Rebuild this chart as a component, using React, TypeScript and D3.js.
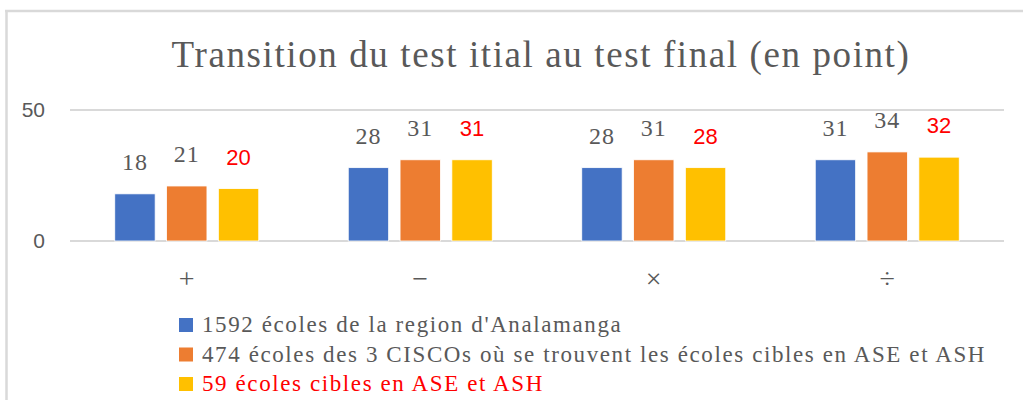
import * as d3 from "d3";

const categories = ["+", "−", "×", "÷"];
const seriesNames = [
  "1592 écoles de la region d'Analamanga",
  "474 écoles des 3 CISCOs où se trouvent les écoles cibles en ASE et ASH",
  "59 écoles cibles en ASE et ASH",
];
const regionValues = [18, 28, 28, 31];
const ciscoValues = [21, 31, 31, 34];
const cibleValues = [20, 31, 28, 32];
const yTicks = [0, 50];

const colors = ["#4472c4", "#ed7d31", "#ffc000"];
const grey = "#595959";
const serif = "'Liberation Serif', 'DejaVu Serif', serif";
const sans = "'Liberation Sans', Arial, sans-serif";

export default function App() {
  const width = 1023;
  const height = 400;
  const series = [regionValues, ciscoValues, cibleValues];

  // plot area
  const x0 = d3.scaleBand().domain(categories).range([70, 1004]);
  const x1 = d3
    .scaleBand()
    .domain(["0", "1", "2"])
    .range([0, 144])
    .paddingInner(0.22);
  const y = d3.scaleLinear().domain([0, 50]).range([241, 110]);

  return (
    <svg
      width={width}
      height={height}
      style={{ position: "absolute", left: 0, top: 0, background: "#fff" }}
    >
      {/* frame */}
      <line x1={6.5} y1={11} x2={6.5} y2={400} stroke="#d9d9d9" strokeWidth={2.5} />
      <line x1={5} y1={11} x2={1023} y2={11} stroke="#d9d9d9" strokeWidth={2.5} />

      <text
        x={541}
        y={67}
        textAnchor="middle"
        fontFamily={serif}
        fontSize={37}
        letterSpacing={1.6}
        fill={grey}
      >
        Transition du test itial au test final (en point)
      </text>

      {yTicks.map((t) => (
        <g key={t}>
          <line x1={70} x2={1004} y1={y(t)} y2={y(t)} stroke="#d9d9d9" strokeWidth={2} />
          <text
            x={45}
            y={y(t) + 7}
            textAnchor="end"
            fontFamily={sans}
            fontSize={21}
            fill={grey}
          >
            {t}
          </text>
        </g>
      ))}

      {categories.map((c, i) => {
        const gx = x0(c)! + (x0.bandwidth() - 144) / 2;
        return (
          <g key={c} transform={`translate(${gx},0)`}>
            {series.map((vals, s) => {
              const bx = x1(String(s))!;
              const v = vals[i];
              return (
                <g key={s}>
                  <rect
                    x={bx}
                    y={y(v)}
                    width={x1.bandwidth()}
                    height={y(0) - y(v)}
                    fill={colors[s]}
                    stroke="#fff"
                    strokeWidth={0.8}
                  />
                  <text
                    x={bx + x1.bandwidth() / 2}
                    y={y(v) - 24}
                    textAnchor="middle"
                    fontFamily={s === 2 ? sans : serif}
                    fontSize={s === 2 ? 22 : 24}
                    letterSpacing={s === 2 ? 0 : 1}
                    fill={s === 2 ? "#ff0000" : grey}
                  >
                    {v}
                  </text>
                </g>
              );
            })}
            <text
              x={72}
              y={288}
              textAnchor="middle"
              fontFamily={serif}
              fontSize={28}
              fill={grey}
            >
              {c}
            </text>
          </g>
        );
      })}

      {seriesNames.map((name, s) => (
        <g key={name} transform={`translate(179,${318 + s * 29.5})`}>
          <rect width={14} height={14} fill={colors[s]} />
          <text
            x={23}
            y={14}
            fontFamily={serif}
            fontSize={23}
            letterSpacing={1.6}
            fill={s === 2 ? "#ff0000" : grey}
          >
            {name}
          </text>
        </g>
      ))}
    </svg>
  );
}
